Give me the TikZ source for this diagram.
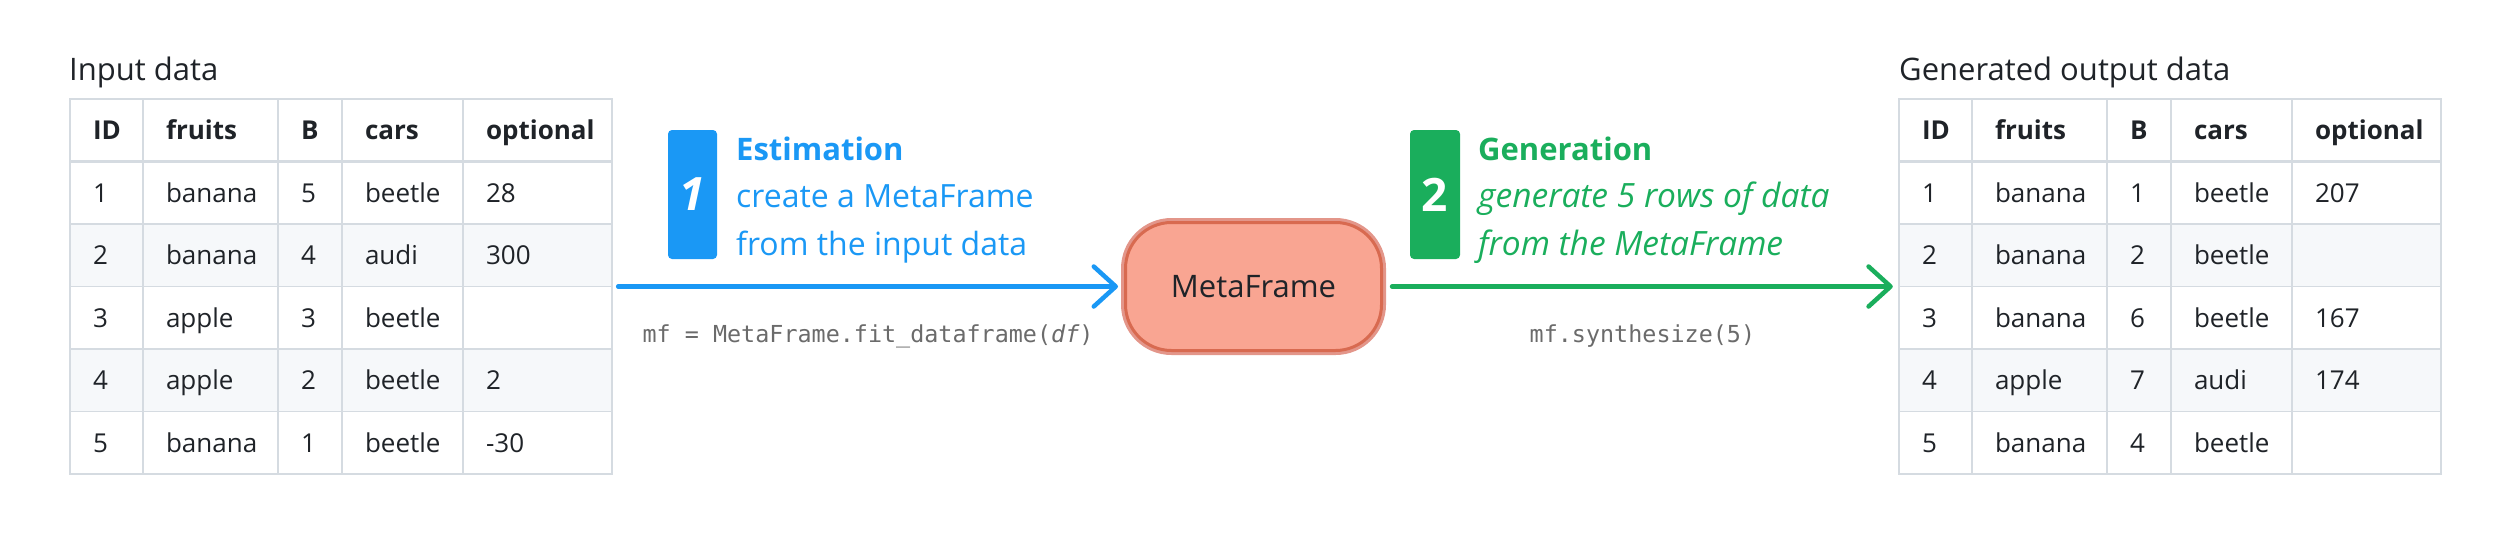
\documentclass[tikz,border=0pt]{standalone}
\usepackage{fontspec}
\setmainfont{Open Sans}
\setmonofont{DejaVu Sans Mono}
\usetikzlibrary{arrows.meta,positioning,fit}
\definecolor{estblue}{HTML}{1A98F5}
\definecolor{gengreen}{HTML}{1AAE5C}
\definecolor{mffill}{HTML}{F9A592}
\definecolor{mfline}{HTML}{D86A50}
\definecolor{mfglow}{HTML}{E3968A}
\definecolor{tblline}{HTML}{D5DBE1}
\definecolor{stripe}{HTML}{F6F8FA}
\definecolor{ink}{HTML}{1F2328}
\definecolor{codegray}{HTML}{6B6B6B}
\hfuzz=60pt
\tikzstyle{cell} = [draw=tblline, line width=1.5pt, anchor=north west, outer sep=0pt, inner xsep=23pt, inner ysep=0pt, minimum height=62.5pt, text height=18.6pt, text depth=0pt, align=left, text=ink, font=\fontsize{26}{30}\selectfont]
\tikzstyle{hcell} = [cell, fill=white, font=\fontsize{26}{30}\selectfont\bfseries]
\tikzstyle{tabtitle} = [anchor=base west, inner sep=0pt, text=ink, font=\fontsize{31}{36}\selectfont]
\tikzstyle{stepnum} = [rounded corners=4pt, minimum width=49pt, minimum height=129pt, inner sep=0pt, text=white, font=\fontsize{46}{50}\selectfont\bfseries]
\tikzstyle{steptext} = [anchor=base west, inner sep=0pt, font=\fontsize{32}{36}\selectfont]
\tikzstyle{flow} = [line width=4.5pt, line cap=round, -{Straight Barb[length=22pt,width=40pt,round]}]
\tikzstyle{codelabel} = [anchor=base, yshift=-56pt, inner sep=0pt, text=codegray, font=\ttfamily\fontsize{23.4}{28}\selectfont]
\tikzstyle{mfbox} = [rounded corners=46pt, minimum width=256pt, minimum height=128pt, fill=mffill, draw=mfline, line width=3pt, preaction={draw=mfglow, line width=9pt}, text=ink, font=\fontsize{31}{36}\selectfont]

\begin{document}
\begin{tikzpicture}[x=1pt, y=-1pt]
\useasboundingbox (0,0) rectangle (2496,544);

% input table
\node[tabtitle] (intitle) at (69,80) {Input data};
\node[hcell, text width=27pt] (in-0-1) at (70,99) {ID};
\node[hcell, text width=89pt] (in-0-2) at (143,99) {fruits};
\node[hcell, text width=18pt] (in-0-3) at (278,99) {B};
\node[hcell, text width=75pt] (in-0-4) at (342,99) {cars};
\node[hcell, text width=103pt] (in-0-5) at (463,99) {optional};
\foreach \r/\vid/\vfruit/\vb/\vcar/\vopt/\rf in {1/1/banana/5/beetle/28/white, 2/2/banana/4/audi/300/stripe, 3/3/apple/3/beetle//white, 4/4/apple/2/beetle/2/stripe, 5/5/banana/1/beetle/-30/white}{
  \node[cell, fill=\rf, text width=27pt] (in-\r-1) at (70,99+62.5*\r) {\vid};
  \node[cell, fill=\rf, text width=89pt] (in-\r-2) at (143,99+62.5*\r) {\vfruit};
  \node[cell, fill=\rf, text width=18pt] (in-\r-3) at (278,99+62.5*\r) {\vb};
  \node[cell, fill=\rf, text width=75pt] (in-\r-4) at (342,99+62.5*\r) {\vcar};
  \node[cell, fill=\rf, text width=103pt] (in-\r-5) at (463,99+62.5*\r) {\vopt};
}
\draw[tblline, line width=3pt] (in-0-1.south west) -- (in-0-5.south east);
\node[fit=(in-0-1)(in-5-5), inner sep=0pt] (intab) {};

% output table
\node[tabtitle] (outtitle) at (1899,80) {Generated output data};
\node[hcell, text width=27pt] (out-0-1) at (1899,99) {ID};
\node[hcell, text width=89pt] (out-0-2) at (1972,99) {fruits};
\node[hcell, text width=18pt] (out-0-3) at (2107,99) {B};
\node[hcell, text width=75pt] (out-0-4) at (2171,99) {cars};
\node[hcell, text width=103pt] (out-0-5) at (2292,99) {optional};
\foreach \r/\vid/\vfruit/\vb/\vcar/\vopt/\rf in {1/1/banana/1/beetle/207/white, 2/2/banana/2/beetle//stripe, 3/3/banana/6/beetle/167/white, 4/4/apple/7/audi/174/stripe, 5/5/banana/4/beetle//white}{
  \node[cell, fill=\rf, text width=27pt] (out-\r-1) at (1899,99+62.5*\r) {\vid};
  \node[cell, fill=\rf, text width=89pt] (out-\r-2) at (1972,99+62.5*\r) {\vfruit};
  \node[cell, fill=\rf, text width=18pt] (out-\r-3) at (2107,99+62.5*\r) {\vb};
  \node[cell, fill=\rf, text width=75pt] (out-\r-4) at (2171,99+62.5*\r) {\vcar};
  \node[cell, fill=\rf, text width=103pt] (out-\r-5) at (2292,99+62.5*\r) {\vopt};
}
\draw[tblline, line width=3pt] (out-0-1.south west) -- (out-0-5.south east);
\node[fit=(out-0-1)(out-5-5), inner sep=0pt] (outtab) {};

% metaframe
\node[mfbox, right of=intab, node distance=912.5pt] (mf) {MetaFrame};

% step 1
\node[stepnum, fill=estblue] (estnum) at (692.5,194.5) {\itshape 1};
\node[steptext, text=estblue, font=\fontsize{31}{36}\selectfont\bfseries] (esthead) at (736,160) {Estimation};
\node[steptext, text=estblue] (estline1) at (736,207) {create a MetaFrame};
\node[steptext, text=estblue] (estline2) at (736,255) {from the input data};

% step 2
\node[stepnum, fill=gengreen, minimum width=50pt] (gennum) at (1435,194.5) {2};
\node[steptext, text=gengreen, font=\fontsize{31}{36}\selectfont\bfseries] (genhead) at (1478,160) {Generation};
\node[steptext, text=gengreen, font=\fontsize{33.5}{36}\selectfont\itshape] (genline1) at (1478,207) {generate 5 rows of data};
\node[steptext, text=gengreen, font=\fontsize{33.5}{36}\selectfont\itshape] (genline2) at (1478,255) {from the MetaFrame};

\draw[flow, estblue] ([xshift=6pt]intab.east) -- node[codelabel] (fitcode) {mf = MetaFrame.fit\_dataframe(\textit{df})} ([xshift=-6pt]mf.west);
\draw[flow, gengreen] ([xshift=9pt]mf.east) -- node[codelabel] (syncode) {mf.synthesize(5)} ([xshift=-6pt]outtab.west);

\end{tikzpicture}
\end{document}
